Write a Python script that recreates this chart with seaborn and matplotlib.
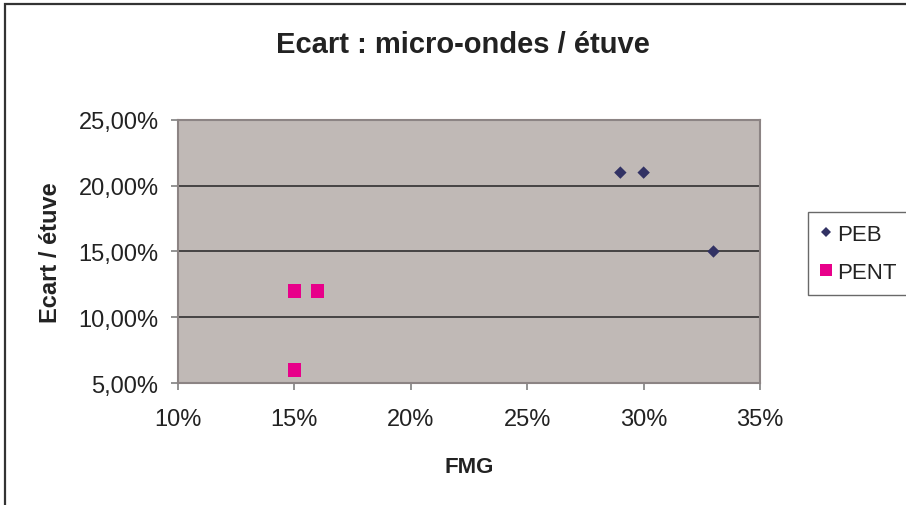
import pandas as pd
import matplotlib
matplotlib.use("Agg")
import matplotlib.pyplot as plt
import seaborn as sns
from matplotlib.ticker import FuncFormatter, MultipleLocator
from matplotlib.lines import Line2D
from matplotlib.patches import Rectangle

# data (percent)
peb_fmg = [29, 30, 33]
peb_ecart = [21, 21, 15]
pent_fmg = [15, 16, 15]
pent_ecart = [12, 12, 6]

df = pd.DataFrame({
    "FMG": peb_fmg + pent_fmg,
    "Ecart": peb_ecart + pent_ecart,
    "serie": ["PEB"] * len(peb_fmg) + ["PENT"] * len(pent_fmg),
})

sns.set_style("white")
plt.rcParams["font.family"] = ["Liberation Sans", "DejaVu Sans"]

colors = {"PEB": "#323264", "PENT": "#E8008A"}
markers = {"PEB": "D", "PENT": "s"}

fig = plt.figure(figsize=(9.06, 5.06), dpi=100)
ax = fig.add_axes([0.1965, 0.2411, 0.6424, 0.5198])
ax.set_facecolor("#C0B9B6")

sns.scatterplot(data=df, x="FMG", y="Ecart", hue="serie", style="serie",
                size="serie", sizes={"PEB": 40, "PENT": 92},
                palette=colors, markers=markers, linewidth=0, ax=ax,
                legend=False, zorder=3)

ax.set_xlim(10, 35)
ax.set_ylim(5, 25)
ax.xaxis.set_major_locator(MultipleLocator(5))
ax.yaxis.set_major_locator(MultipleLocator(5))
ax.xaxis.set_major_formatter(FuncFormatter(lambda v, p: f"{v:.0f}%"))
ax.yaxis.set_major_formatter(FuncFormatter(lambda v, p: f"{v:.2f}%".replace(".", ",")))
ax.grid(axis="y", color="#303030", linewidth=1.2)
ax.set_axisbelow(True)
for s in ax.spines.values():
    s.set_color("#8c8484")
    s.set_linewidth(1.5)
ax.tick_params(axis="both", direction="out", length=5, width=1.2, color="#808080",
               labelsize=17, labelcolor="#222222", left=True, bottom=True)
ax.tick_params(axis="y", pad=9)
ax.tick_params(axis="x", pad=13)

ax.set_xlabel("FMG", fontsize=16, fontweight="bold", color="#222222")
ax.set_ylabel("Ecart / étuve", fontsize=17, fontweight="bold", color="#222222")
ax.xaxis.set_label_coords(0.5, -0.278)
ax.yaxis.set_label_coords(-0.199, 0.5)
fig.text(463 / 906, 1 - 45 / 506, "Ecart : micro-ondes / étuve", ha="center", va="center",
         fontsize=21, fontweight="bold", color="#222222")

handles = [
    Line2D([], [], linestyle="none", marker="D", markersize=5.5,
           markerfacecolor=colors["PEB"], markeredgewidth=0, label="PEB"),
    Line2D([], [], linestyle="none", marker="s", markersize=8,
           markerfacecolor=colors["PENT"], markeredgewidth=0, label="PENT"),
]
leg = fig.legend(handles=handles, loc="upper left", bbox_to_anchor=(808 / 906, 1 - 213 / 506),
                 fontsize=16, frameon=True, fancybox=False, handlelength=0.5,
                 handletextpad=0.25, borderpad=0.55, labelspacing=0.75, borderaxespad=0)
leg.get_frame().set_edgecolor("#444444")
leg.get_frame().set_linewidth(1.0)
for t in leg.get_texts():
    t.set_color("#222222")

# chart border (cropped on the right/bottom in the reference)
fig.patches.append(Rectangle((5 / 906, -0.05), 1.1, 1 - 5 / 506 + 0.05,
                             transform=fig.transFigure, fill=False,
                             edgecolor="#333333", linewidth=1.6))

fig.savefig("out.png", dpi=100)
